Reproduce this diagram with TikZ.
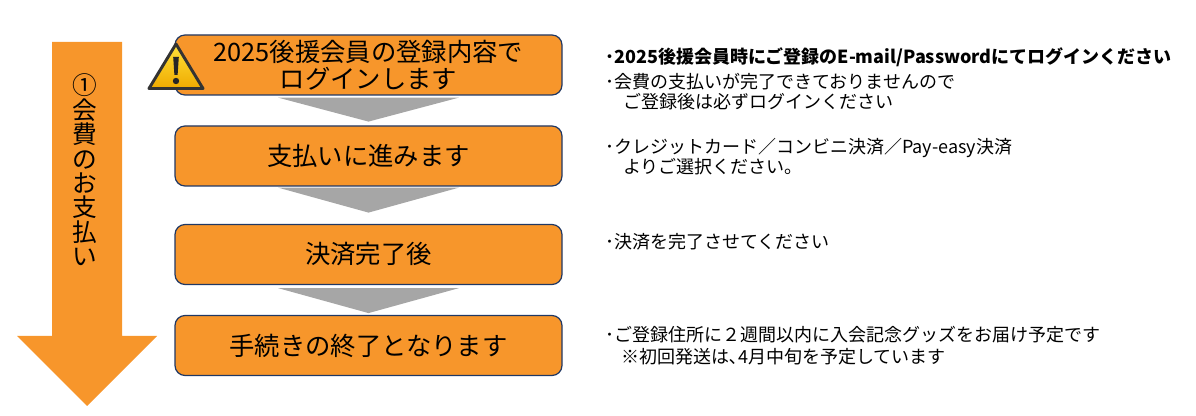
\documentclass[tikz,border=0pt]{standalone}
\usepackage{fontspec}
\setmainfont{Noto Sans CJK JP}
\definecolor{cOrange}{HTML}{F7962B}
\definecolor{cNavy}{HTML}{203864}
\definecolor{cGrey}{HTML}{A6A6A6}
\definecolor{cYellow}{HTML}{FFE23A}
\definecolor{cAmber}{HTML}{EFAA00}
\usetikzlibrary{calc}

\begin{document}
\begin{tikzpicture}[x=0.75pt, y=-0.75pt,
		stepbox/.style={draw=cNavy, line width=0.9pt, fill=cOrange, rounded corners=7.5pt, minimum width=290.25pt, minimum height=45pt, inner sep=0pt, align=center, font=\fontsize{19}{20.25}\selectfont},
		chev/.style={fill=cGrey},
		note/.style={anchor=base west, inner sep=0pt, font=\fontsize{13.5}{15}\selectfont}]
		\useasboundingbox (0,0) rectangle (1196,416);
		% big arrow on the left
		\fill [cOrange] (52,42) -- (122,42) -- (122,336) -- (157,336) -- (87,406) -- (17,336) -- (52,336) -- cycle;
		\node [inner sep=0pt, align=center, font=\fontsize{18.5}{18.3}\selectfont] (flow) at (85,170) {①\\会\\費\\の\\お\\支\\払\\い};
		% steps
		\node [stepbox] (login) at (368.5,65) {2025後援会員の登録内容で\\ログインします};
		\node [stepbox] (pay) at (368.5,156) {支払いに進みます};
		\node [stepbox] (done) at (368.5,254.5) {決済完了後};
		\node [stepbox] (finish) at (368.5,345.5) {手続きの終了となります};
		\fill [chev] ($(login.south)+(-90.5,2)$) -- ($(login.south)+(90.5,2)$) -- ($(login.south)+(0,26)$) -- cycle;
		\fill [chev] ($(pay.south)+(-90.5,1)$) -- ($(pay.south)+(90.5,1)$) -- ($(pay.south)+(0,26)$) -- cycle;
		\fill [chev] ($(done.south)+(-90.5,3)$) -- ($(done.south)+(90.5,3)$) -- ($(done.south)+(0,28)$) -- cycle;
		% warning sign
		\filldraw [draw=black!80, line width=2.2pt, line join=round, top color=cYellow, bottom color=cAmber] (176,44) -- (203,88.5) -- (149,88.5) -- cycle;
		\fill [black!85] (173.2,57) -- (178.8,57) -- (177.6,75) -- (174.4,75) -- cycle;
		\fill [black!85] (176,81) circle (3.2);
		% notes
		\node [note, font=\fontsize{13.5}{15}\selectfont\bfseries] (n1) at (605,64) {･2025後援会員時にご登録のE-mail/Passwordにてログインください};
		\node [note] (n2) at (605,89) {･会費の支払いが完了できておりませんので};
		\node [note] (n3) at (623,109) {ご登録後は必ずログインください};
		\node [note] (n4) at (605,154) {･クレジットカード／コンビニ決済／Pay-easy決済};
		\node [note] (n5) at (623,174) {よりご選択ください。};
		\node [note] (n6) at (605,249) {･決済を完了させてください};
		\node [note] (n7) at (605,342) {･ご登録住所に２週間以内に入会記念グッズをお届け予定です};
		\node [note] (n8) at (621,364) {※初回発送は､4月中旬を予定しています};
\end{tikzpicture}
\end{document}
